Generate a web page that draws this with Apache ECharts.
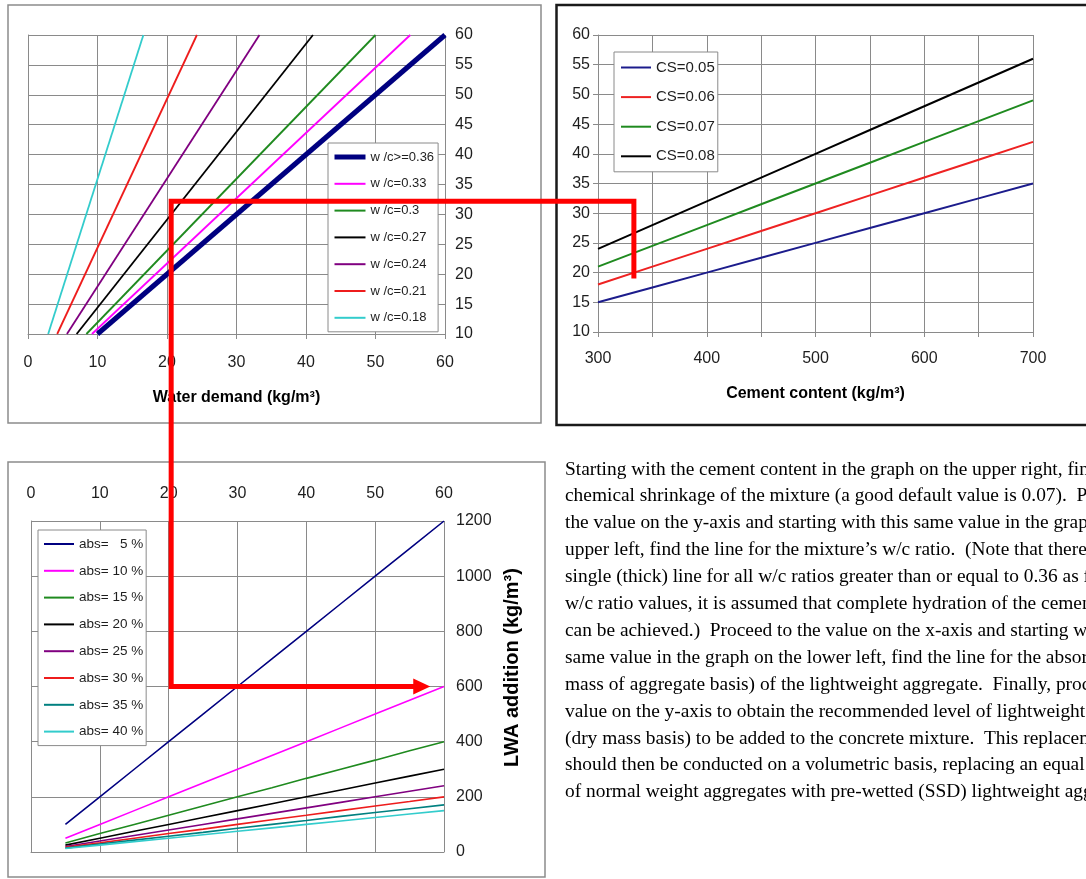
<!DOCTYPE html>
<html>
<head>
<meta charset="utf-8">
<script src="https://cdn.jsdelivr.net/npm/echarts@6/dist/echarts.min.js"></script>
<style>
  html, body { margin: 0; padding: 0; background: #ffffff; }
  #chart { width: 1086px; height: 879px; }
</style>
</head>
<body>
<div id="chart"></div>
<script>
// ---------- Upper left: chemical shrinkage volume vs water demand, one line per w/c ----------
const wcNames = ['w /c>=0.36', 'w /c=0.33', 'w /c=0.3', 'w /c=0.27', 'w /c=0.24', 'w /c=0.21', 'w /c=0.18'];
const wc036 = [[10, 10], [60, 60]];
const wc033 = [[9.2, 10], [55, 60]];
const wc030 = [[8.4, 10], [50, 60]];
const wc027 = [[7.0, 10], [41, 60]];
const wc024 = [[5.6, 10], [33.3, 60]];
const wc021 = [[4.2, 10], [24.3, 60]];
const wc018 = [[2.9, 10], [16.6, 60]];
const wcLines = [wc036, wc033, wc030, wc027, wc024, wc021, wc018];

// ---------- Upper right: shrinkage volume vs cement content ----------
const csNames = ['CS=0.05', 'CS=0.06', 'CS=0.07', 'CS=0.08'];
const cementContent = [300, 350, 400, 450, 500, 550, 600, 650, 700];
const cs005 = [15, 17.5, 20, 22.5, 25, 27.5, 30, 32.5, 35];
const cs006 = [18, 21, 24, 27, 30, 33, 36, 39, 42];
const cs007 = [21, 24.5, 28, 31.5, 35, 38.5, 42, 45.5, 49];
const cs008 = [24, 28, 32, 36, 40, 44, 48, 52, 56];
const csLines = [cs005, cs006, cs007, cs008];

// ---------- Lower left: LWA addition vs water demand, one line per absorption ----------
const absNames = ['abs=   5 %', 'abs= 10 %', 'abs= 15 %', 'abs= 20 %', 'abs= 25 %', 'abs= 30 %', 'abs= 35 %', 'abs= 40 %'];
const waterDemand = [5, 10, 15, 20, 25, 30, 35, 40, 45, 50, 55, 60];
const abs05 = [100, 200, 300, 400, 500, 600, 700, 800, 900, 1000, 1100, 1200];
const abs10 = [50, 100, 150, 200, 250, 300, 350, 400, 450, 500, 550, 600];
const abs15 = [33, 67, 100, 133, 167, 200, 233, 267, 300, 333, 367, 400];
const abs20 = [25, 50, 75, 100, 125, 150, 175, 200, 225, 250, 275, 300];
const abs25 = [20, 40, 60, 80, 100, 120, 140, 160, 180, 200, 220, 240];
const abs30 = [17, 33, 50, 67, 83, 100, 117, 133, 150, 167, 183, 200];
const abs35 = [14, 29, 43, 57, 71, 86, 100, 114, 129, 143, 157, 171];
const abs40 = [12.5, 25, 37.5, 50, 62.5, 75, 87.5, 100, 112.5, 125, 137.5, 150];
const absLines = [abs05, abs10, abs15, abs20, abs25, abs30, abs35, abs40];

// ---------- Worked example path (red arrow) ----------
const guideCement = 333;
const guideShrinkStart = 19;
const guideShrinkEnd = 32;
const guideWater = 20.6;
const guideLWA = 600;
const guideArrowTip = 58;

const paragraph = [
  'Starting with the cement content in the graph on the upper right, find the line for the',
  'chemical shrinkage of the mixture (a good default value is 0.07).  Proceed to',
  'the value on the y-axis and starting with this same value in the graph on the',
  'upper left, find the line for the mixture\u2019s w/c ratio.  (Note that there is a',
  'single (thick) line for all w/c ratios greater than or equal to 0.36 as for these',
  'w/c ratio values, it is assumed that complete hydration of the cement',
  'can be achieved.)  Proceed to the value on the x-axis and starting with this',
  'same value in the graph on the lower left, find the line for the absorption (dry',
  'mass of aggregate basis) of the lightweight aggregate.  Finally, proceed to the',
  'value on the y-axis to obtain the recommended level of lightweight aggregate',
  '(dry mass basis) to be added to the concrete mixture.  This replacement',
  'should then be conducted on a volumetric basis, replacing an equal volume',
  'of normal weight aggregates with pre-wetted (SSD) lightweight aggregate.'
];

// ---------- styling ----------
const SANS = 'Liberation Sans, Arial, sans-serif';
const gridColor = '#8a8a8a';
const labelColor = '#1e1e1e';
const wcColors = ['#000080', '#ff00ff', '#1f8a1f', '#000000', '#800080', '#ee1c1c', '#33cccc'];
const csColors = ['#1c1c8c', '#ee2222', '#1f8a1f', '#000000'];
const absColors = ['#000080', '#ff00ff', '#1f8a1f', '#000000', '#800080', '#ee1c1c', '#008080', '#33cccc'];

const axisLineStyle = { show: true, lineStyle: { color: gridColor, width: 1 } };
const splitStyle = { show: true, lineStyle: { color: gridColor, width: 1, type: 'solid' } };
const tickStyle = { show: true, length: 5, lineStyle: { color: gridColor } };
const labelStyle = { color: labelColor, fontFamily: SANS, fontSize: 16 };
const nameStyle = { color: '#000', fontFamily: SANS, fontSize: 16, fontWeight: 'bold' };
const plain = v => String(v);

const series = [];
wcLines.forEach((pts, i) => {
  series.push({
    name: wcNames[i], type: 'line', xAxisIndex: 0, yAxisIndex: 0,
    data: pts, symbol: 'none', silent: true,
    lineStyle: { color: wcColors[i], width: i === 0 ? 5 : 1.8 },
    itemStyle: { color: wcColors[i] }, z: 10 - i
  });
});
csLines.forEach((vals, i) => {
  series.push({
    name: csNames[i], type: 'line', xAxisIndex: 1, yAxisIndex: 1,
    data: cementContent.map((c, k) => [c, vals[k]]), symbol: 'none', silent: true,
    lineStyle: { color: csColors[i], width: 2 },
    itemStyle: { color: csColors[i] }
  });
});
absLines.forEach((vals, i) => {
  series.push({
    name: absNames[i], type: 'line', xAxisIndex: 2, yAxisIndex: 2,
    data: waterDemand.map((w, k) => [w, vals[k]]), symbol: 'none', silent: true,
    lineStyle: { color: absColors[i], width: 1.6 },
    itemStyle: { color: absColors[i] }
  });
});

// legend keys show only the line, no marker
const legendBase = {
  orient: 'vertical', backgroundColor: '#ffffff', borderColor: '#8a8a8a', borderWidth: 1,
  selectedMode: false, itemStyle: { opacity: 0 }, lineStyle: { width: 2 }
};

const option = {
  animation: false,
  backgroundColor: '#ffffff',
  grid: [
    { left: 28, top: 35, width: 417, height: 299 },
    { left: 598, top: 35, width: 435, height: 297 },
    { left: 31, top: 521, width: 413, height: 331 }
  ],
  xAxis: [
    {
      gridIndex: 0, type: 'value', min: 0, max: 60, interval: 10, position: 'bottom',
      axisLine: axisLineStyle, axisTick: tickStyle,
      splitLine: splitStyle, axisLabel: Object.assign({ margin: 21, formatter: plain }, labelStyle),
      name: 'Water demand (kg/m\u00B3)', nameLocation: 'middle', nameGap: 56, nameTextStyle: nameStyle
    },
    {
      gridIndex: 1, type: 'value', min: 300, max: 700, interval: 50, position: 'bottom',
      axisLine: axisLineStyle, axisTick: tickStyle,
      splitLine: splitStyle,
      axisLabel: Object.assign({ margin: 19, formatter: v => (v % 100 === 0 ? String(v) : '') }, labelStyle),
      name: 'Cement content (kg/m\u00B3)', nameLocation: 'middle', nameGap: 54, nameTextStyle: nameStyle
    },
    {
      gridIndex: 2, type: 'value', min: 0, max: 60, interval: 10, position: 'top',
      axisLine: axisLineStyle, axisTick: { show: false },
      splitLine: splitStyle, axisLabel: Object.assign({ margin: 19, formatter: plain }, labelStyle)
    }
  ],
  yAxis: [
    {
      gridIndex: 0, type: 'value', min: 10, max: 60, interval: 5, position: 'right',
      axisLine: axisLineStyle, axisTick: tickStyle,
      splitLine: splitStyle, axisLabel: Object.assign({ margin: 10, formatter: plain }, labelStyle)
    },
    {
      gridIndex: 1, type: 'value', min: 10, max: 60, interval: 5, position: 'left',
      axisLine: axisLineStyle, axisTick: tickStyle,
      splitLine: splitStyle, axisLabel: Object.assign({ margin: 8, formatter: plain }, labelStyle)
    },
    {
      gridIndex: 2, type: 'value', min: 0, max: 1200, interval: 200, position: 'right',
      axisLine: axisLineStyle, axisTick: tickStyle,
      splitLine: splitStyle, axisLabel: Object.assign({ margin: 12, formatter: plain }, labelStyle),
      name: 'LWA addition (kg/m\u00B3)', nameLocation: 'middle', nameRotate: 90, nameGap: 58,
      nameTextStyle: Object.assign({}, nameStyle, { fontSize: 20, padding: [0, 0, 0, 38] })
    }
  ],
  legend: [
    Object.assign({}, legendBase, {
      data: wcNames.map((n, i) => (i === 0 ? { name: n, lineStyle: { width: 5 } } : n)),
      left: 328, top: 143,
      padding: [7, 4, 7, 4], itemGap: 12.8, itemWidth: 31, itemHeight: 14,
      textStyle: { color: labelColor, fontFamily: SANS, fontSize: 13, lineHeight: 14 }
    }),
    Object.assign({}, legendBase, {
      data: csNames, left: 614, top: 52,
      padding: [8, 3, 8, 6], itemGap: 14.6, itemWidth: 30, itemHeight: 15,
      textStyle: { color: labelColor, fontFamily: SANS, fontSize: 15, lineHeight: 15 }
    }),
    Object.assign({}, legendBase, {
      data: absNames, left: 38, top: 530,
      padding: [7, 3, 7, 5], itemGap: 12.8, itemWidth: 30, itemHeight: 14,
      textStyle: { color: labelColor, fontFamily: SANS, fontSize: 13.5, lineHeight: 14 }
    })
  ],
  series: series
};

const chart = echarts.init(document.getElementById('chart'), null, { renderer: 'canvas' });
chart.setOption(option);

// Panel frames, explanatory text and the red worked-example arrow
const a = chart.convertToPixel({ gridIndex: 1 }, [guideCement, guideShrinkStart]);
const b = chart.convertToPixel({ gridIndex: 1 }, [guideCement, guideShrinkEnd]);
const c = chart.convertToPixel({ gridIndex: 0 }, [guideWater, guideShrinkEnd]);
const d = chart.convertToPixel({ gridIndex: 2 }, [guideWater, guideLWA]);
const tip = chart.convertToPixel({ gridIndex: 2 }, [guideArrowTip, guideLWA]);
const headLen = 17, headHalf = 8;

chart.setOption({
  graphic: [
    { type: 'rect', z: -10, shape: { x: 8, y: 5, width: 533, height: 418 },
      style: { fill: null, stroke: '#8c8c8c', lineWidth: 1.5 } },
    { type: 'rect', z: -10, shape: { x: 8, y: 462, width: 537, height: 415 },
      style: { fill: null, stroke: '#8c8c8c', lineWidth: 1.5 } },
    { type: 'rect', z: -10, shape: { x: 556.5, y: 5, width: 560, height: 420 },
      style: { fill: null, stroke: '#1a1a1a', lineWidth: 2.5 } },
    { type: 'text', left: 565, top: 456, z: 5,
      style: { text: paragraph.join('\n'), font: '19.4px "Liberation Serif", "Times New Roman", serif',
               fill: '#000000', lineHeight: 26.9 } },
    { type: 'polyline', z: 100,
      shape: { points: [a, b, [c[0], b[1]], [c[0], d[1]], [tip[0] - headLen + 2, d[1]]] },
      style: { stroke: '#ff0000', lineWidth: 5, fill: null, lineJoin: 'miter' } },
    { type: 'polygon', z: 100,
      shape: { points: [[tip[0] - headLen, tip[1] - headHalf], [tip[0], tip[1]], [tip[0] - headLen, tip[1] + headHalf]] },
      style: { fill: '#ff0000' } }
  ]
});
</script>
</body>
</html>
